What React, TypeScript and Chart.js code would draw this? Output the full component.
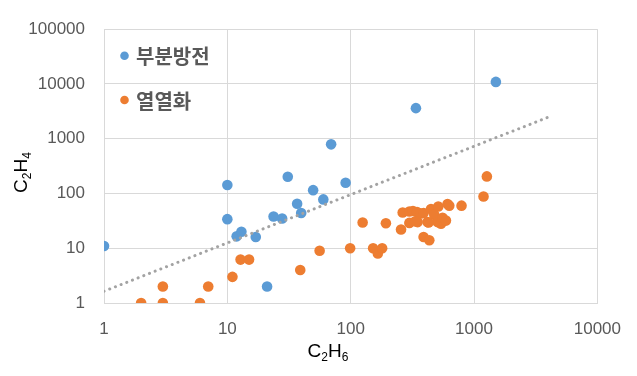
import React, { useEffect, useRef } from "react";
import { Chart, registerables } from "chart.js";

Chart.register(...registerables);

// 부분방전 (partial discharge) series
const pdC2H6 = [1, 10, 10, 11.9, 13, 17, 21, 23.7, 27.8, 30.9, 36.8, 39.7, 49.6, 60, 69.4, 91, 338, 1504];
const pdC2H4 = [11, 143, 34, 16.5, 20, 16, 2, 38, 35, 202, 65, 44, 115, 78, 790, 157, 3620, 10900];

// 열열화 (thermal) series
const thC2H6 = [
  2, 3, 6, 3, 7, 11, 12.8, 15, 39, 56, 99, 125, 152, 166, 180, 193,
  256, 264, 299, 299, 320, 345, 349, 370, 390, 420, 448, 476, 506, 513, 540, 556, 592, 610, 630, 792,
  390, 434, 334, 428, 1194, 1271,
];
const thC2H4 = [
  1, 1, 1, 2, 2, 3, 6.2, 6.2, 4, 9, 10, 29.5, 10, 8, 10, 28.6,
  22, 45, 47, 29, 48, 46, 30, 43, 44, 30, 52, 41, 30, 58, 28, 36, 32, 64, 60, 60,
  16, 14, 31, 29.6, 88, 205,
];

// power trendline end points
const trendC2H6 = [1, 3940];
const trendC2H4 = [1.64, 2440];

const xTicks = [1, 10, 100, 1000, 10000];
const yTicks = [1, 10, 100, 1000, 10000, 100000];

const legendLabels = ["부분방전", "열열화"];
const blue = "#5B9BD5";
const orange = "#ED7D31";

function toPoints(xs: number[], ys: number[]) {
  return xs.map((x, i) => ({ x, y: ys[i] }));
}

function drawFormula(ctx: CanvasRenderingContext2D, parts: [string, boolean][], cx: number, baseline: number) {
  const big = "19px 'Liberation Sans', Arial, sans-serif";
  const small = "12px 'Liberation Sans', Arial, sans-serif";
  let w = 0;
  for (const [t, sub] of parts) {
    ctx.font = sub ? small : big;
    w += ctx.measureText(t).width;
  }
  let x = cx - w / 2;
  ctx.textAlign = "left";
  ctx.textBaseline = "alphabetic";
  for (const [t, sub] of parts) {
    ctx.font = sub ? small : big;
    ctx.fillText(t, x, sub ? baseline + 4 : baseline);
    x += ctx.measureText(t).width;
  }
}

const overlay = {
  id: "overlay",
  afterDraw(chart: any) {
    const ctx = chart.ctx as CanvasRenderingContext2D;
    ctx.save();
    // legend
    const colors = [blue, orange];
    const ys = [55.7, 100];
    legendLabels.forEach((lab, i) => {
      ctx.beginPath();
      ctx.fillStyle = colors[i];
      ctx.arc(124.5, ys[i], 4.3, 0, Math.PI * 2);
      ctx.fill();
      ctx.fillStyle = "#595959";
      ctx.font = "bold 20px 'Noto Sans CJK KR', sans-serif";
      ctx.textAlign = "left";
      ctx.textBaseline = "middle";
      ctx.fillText(lab, 136, ys[i] + 1);
    });
    // axis titles
    ctx.fillStyle = "#000";
    drawFormula(ctx, [["C", false], ["2", true], ["H", false], ["6", true]], 328, 357);
    ctx.translate(20, 172.5);
    ctx.rotate(-Math.PI / 2);
    drawFormula(ctx, [["C", false], ["2", true], ["H", false], ["4", true]], 0, 7);
    ctx.restore();
  },
};

export default function App() {
  const ref = useRef<HTMLCanvasElement>(null);
  useEffect(() => {
    document.body.style.margin = "0";
    const tickFont = { family: "'Liberation Sans', Arial, sans-serif", size: 17 };
    const chart = new Chart(ref.current as HTMLCanvasElement, {
      type: "scatter",
      data: {
        datasets: [
          {
            type: "line",
            label: "trend",
            data: toPoints(trendC2H6, trendC2H4),
            borderColor: "#a3a3a3",
            borderWidth: 3,
            borderDash: [0.1, 6],
            borderCapStyle: "round",
            pointRadius: 0,
            fill: false,
            order: 0,
          } as any,
          {
            label: legendLabels[0],
            data: toPoints(pdC2H6, pdC2H4),
            backgroundColor: blue,
            borderWidth: 0,
            pointRadius: 5.3,
            order: 1,
          },
          {
            label: legendLabels[1],
            data: toPoints(thC2H6, thC2H4),
            backgroundColor: orange,
            borderWidth: 0,
            pointRadius: 5.3,
            order: 2,
          },
        ],
      },
      options: {
        animation: false,
        responsive: false,
        maintainAspectRatio: false,
        layout: { padding: { left: 0, top: 24, right: 39, bottom: 0 } },
        plugins: { legend: { display: false }, tooltip: { enabled: false } },
        scales: {
          x: {
            type: "logarithmic",
            min: 1,
            max: 10000,
            afterBuildTicks: (s: any) => {
              s.ticks = xTicks.map((v) => ({ value: v }));
            },
            afterFit: (s: any) => {
              s.height = 73;
            },
            ticks: {
              autoSkip: false,
              maxRotation: 0,
              padding: 16,
              color: "#595959",
              font: tickFont,
              callback: (v: any) => String(v),
            },
            grid: { color: "#d9d9d9", drawTicks: false, lineWidth: 1 },
            border: { color: "#d9d9d9" },
          },
          y: {
            type: "logarithmic",
            min: 1,
            max: 100000,
            afterBuildTicks: (s: any) => {
              s.ticks = yTicks.map((v) => ({ value: v }));
            },
            afterFit: (s: any) => {
              s.width = 104;
            },
            ticks: {
              autoSkip: false,
              padding: 19,
              color: "#595959",
              font: tickFont,
              callback: (v: any) => String(v),
            },
            grid: { color: "#d9d9d9", drawTicks: false, lineWidth: 1 },
            border: { color: "#d9d9d9" },
          },
        },
      },
      plugins: [overlay],
    } as any);
    return () => chart.destroy();
  }, []);
  return <canvas ref={ref} width={637} height={376} style={{ display: "block" }} />;
}
